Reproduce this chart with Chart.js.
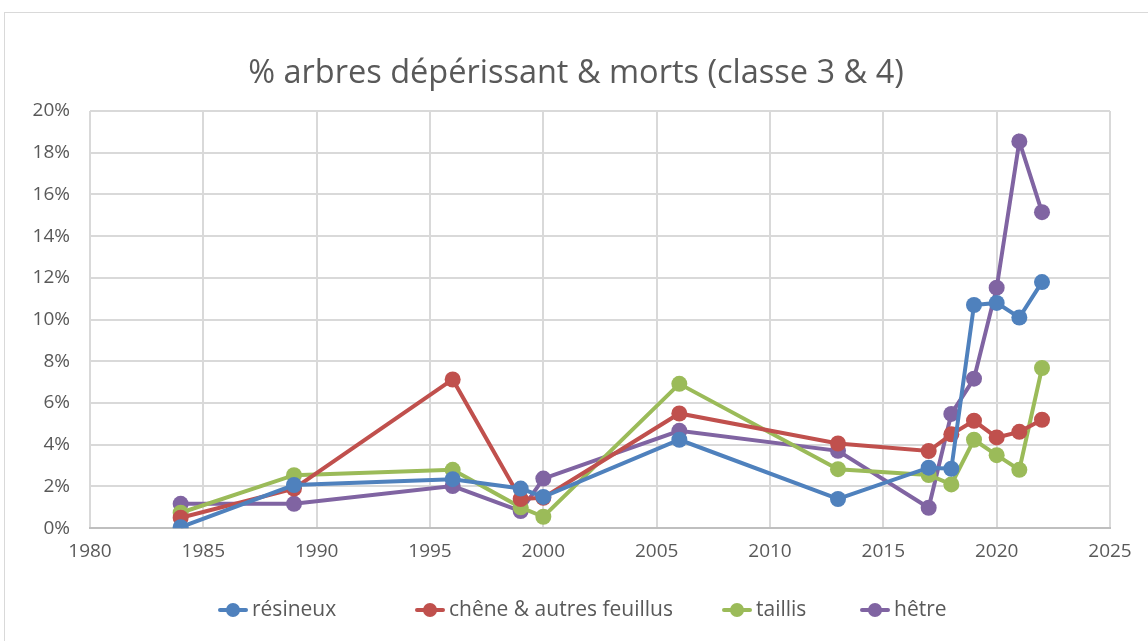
<!DOCTYPE html>
<html><head><meta charset="utf-8">
<script src="https://cdn.jsdelivr.net/npm/chart.js@4/dist/chart.umd.min.js"></script>
<style>
html,body{margin:0;padding:0;background:#fff;}
#wrap{position:absolute;left:0;top:0;width:1148px;height:641px;}
#frame{position:absolute;left:4px;top:12px;width:1160px;height:650px;border:1px solid #d9d9d9;box-sizing:border-box;}
canvas{position:absolute;left:0;top:0;}
</style></head>
<body><div id="wrap"><div id="frame"></div><canvas id="c" width="1148" height="641"></canvas></div>
<script>
const years    = [1984, 1989, 1996, 1999, 2000, 2006, 2013, 2017, 2018, 2019, 2020, 2021, 2022];
const resineux = [0.05, 2.07, 2.35, 1.9, 1.5, 4.24, 1.4, 2.9, 2.85, 10.7, 10.8, 10.1, 11.8];
const chene    = [0.5, 1.9, 7.13, 1.4, 1.46, 5.5, 4.06, 3.7, 4.5, 5.15, 4.35, 4.62, 5.2];
const taillis  = [0.74, 2.54, 2.8, 1.0, 0.55, 6.92, 2.83, 2.55, 2.1, 4.24, 3.5, 2.8, 7.68];
const hetre    = [1.17, 1.17, 2.02, 0.82, 2.38, 4.67, 3.71, 0.98, 5.48, 7.17, 11.53, 18.54, 15.15];
const names    = ['résineux', 'chêne & autres feuillus', 'taillis', 'hêtre'];
const colors   = ['#4F81BD', '#C0504D', '#9BBB59', '#8064A2'];
const series   = [resineux, chene, taillis, hetre];
const titleText = '% arbres dépérissant & morts (classe 3 & 4)';

const FONT = "'Open Sans', sans-serif";
const TXT = '#595959';

const datasets = series.map((s, i) => ({
  label: names[i],
  data: years.map((y, j) => ({x: y, y: s[j]})),
  borderColor: colors[i],
  backgroundColor: colors[i],
  borderWidth: 4,
  pointRadius: 8,
  pointHoverRadius: 8,
  pointBorderWidth: 0,
  showLine: true,
  tension: 0
}));

// custom title + legend (Excel-style placement)
const deco = {
  id: 'xlDeco',
  afterDraw(chart) {
    const ctx = chart.ctx;
    ctx.save();
    ctx.fillStyle = TXT;
    ctx.font = "32.5px " + FONT;
    ctx.textAlign = 'center';
    ctx.textBaseline = 'middle';
    ctx.fillText(titleText, 576, 74);

    const starts = [218, 415, 722, 860];
    const y = 610;
    ctx.font = "21px " + FONT;
    ctx.textAlign = 'left';
    chart.data.datasets.forEach((d, i) => {
      const x = starts[i];
      ctx.strokeStyle = d.borderColor; ctx.lineWidth = 4; ctx.lineCap = 'round';
      ctx.beginPath(); ctx.moveTo(x + 2, y); ctx.lineTo(x + 28, y); ctx.stroke();
      ctx.fillStyle = d.borderColor;
      ctx.beginPath(); ctx.arc(x + 15, y, 7, 0, Math.PI * 2); ctx.fill();
      ctx.fillStyle = TXT;
      ctx.fillText(d.label, x + 34, y);
    });
    ctx.restore();
  }
};

new Chart(document.getElementById('c'), {
  type: 'scatter',
  data: {datasets},
  plugins: [deco],
  options: {
    responsive: false,
    animation: false,
    layout: {padding: {left: 10, right: 38, top: 111, bottom: 66}},
    plugins: {
      title: {display: false},
      legend: {display: false},
      tooltip: {enabled: false}
    },
    scales: {
      x: {type: 'linear', min: 1980, max: 2025,
        ticks: {stepSize: 5, color: TXT, font: {family: FONT, size: 19}, padding: 12,
          callback: v => String(v)},
        grid: {color: '#d9d9d9', lineWidth: 2, drawTicks: false},
        border: {color: '#bfbfbf', width: 2}},
      y: {min: 0, max: 20,
        afterFit: s => { s.width = 80; },
        ticks: {stepSize: 2, color: TXT, font: {family: FONT, size: 19}, padding: 20,
          callback: v => v + '%'},
        grid: {color: '#d9d9d9', lineWidth: 2, drawTicks: false},
        border: {display: false}}
    }
  }
});
</script></body></html>
